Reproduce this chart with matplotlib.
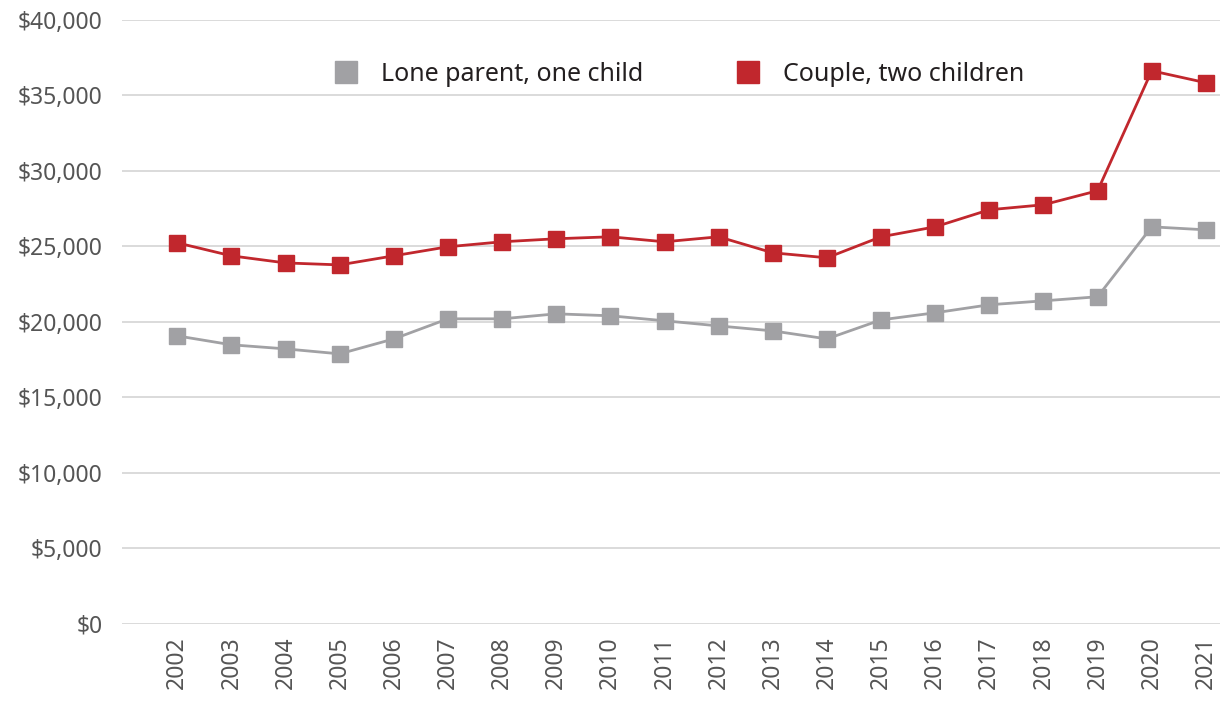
import matplotlib
matplotlib.use("Agg")
import matplotlib.pyplot as plt
from matplotlib.lines import Line2D
from matplotlib.ticker import FuncFormatter

plt.rcParams["font.family"] = ["Noto Sans", "DejaVu Sans"]

years = [str(y) for y in range(2002, 2022)]
lone_parent = [19070, 18480, 18210, 17880, 18870, 20200, 20200, 20530, 20400, 20070,
               19730, 19400, 18870, 20130, 20600, 21130, 21390, 21660, 26290, 26090]
couple = [25230, 24370, 23900, 23770, 24370, 24970, 25300, 25500, 25630, 25300,
          25630, 24570, 24240, 25630, 26290, 27420, 27750, 28680, 36620, 35830]
y_ticks = [0, 5000, 10000, 15000, 20000, 25000, 30000, 35000, 40000]

GRAY = "#A1A1A4"
RED = "#C1272D"
TXT = "#555555"

fig = plt.figure(figsize=(12.24, 7.05), dpi=100)
ax = fig.add_axes([0.0997, 0.115, 0.897, 0.857])

x = range(len(years))
ax.plot(x, lone_parent, color=GRAY, lw=2, marker="s", ms=11.5, zorder=3)
ax.plot(x, couple, color=RED, lw=2, marker="s", ms=11.5, zorder=3)

ax.set_xlim(-1.02, 19.26)
ax.set_ylim(0, 40000)
ax.set_yticks(y_ticks)
ax.yaxis.set_major_formatter(FuncFormatter(lambda v, p: f"${v:,.0f}"))
ax.set_xticks(list(x))
ax.set_xticklabels(years, rotation=90)
ax.grid(axis="y", color="#DADADA", lw=1.4)
ax.set_axisbelow(True)
for s in ax.spines.values():
    s.set_visible(False)
ax.tick_params(length=0, labelsize=16.5, colors=TXT)
ax.tick_params(axis="y", pad=14)
ax.tick_params(axis="x", pad=9)

handles = [Line2D([], [], ls="none", marker="s", ms=16.5, color=GRAY),
           Line2D([], [], ls="none", marker="s", ms=16.5, color=RED)]
ax.legend(handles, ["Lone parent, one child", "Couple, two children"], ncol=2,
          loc="upper center", bbox_to_anchor=(0.507, 0.968), frameon=False,
          fontsize=18, labelcolor="#231F20", handletextpad=0.9, columnspacing=3.7,
          handlelength=1.0)

fig.savefig("out.png", dpi=100)
